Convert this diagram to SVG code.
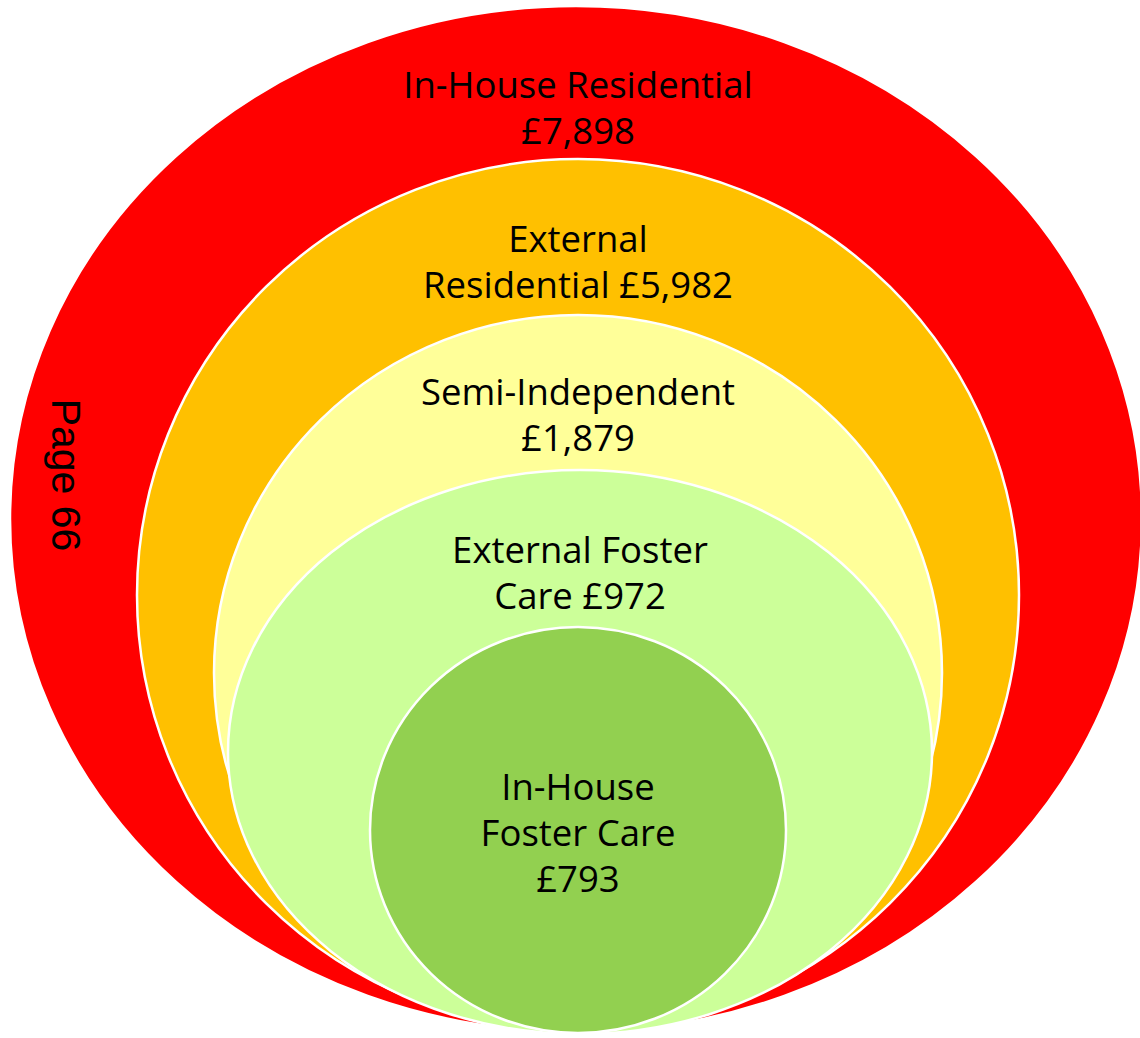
<svg xmlns="http://www.w3.org/2000/svg" width="1140" height="1038" viewBox="0 0 1140 1038">
<style>
.ring{stroke:#FFFFFF;stroke-width:2.5}
.lbl{font-family:"Open Sans","Liberation Sans",sans-serif;font-size:36.5px;fill:#000;text-anchor:middle}
.pg{font-family:"Liberation Sans",Arial,sans-serif;font-size:41px;fill:#000;text-anchor:middle}
</style>
<rect width="1140" height="1038" fill="#FFFFFF"/>
<g id="in-house-residential">
<ellipse class="ring" cx="576" cy="519" rx="566" ry="513" fill="#FF0000" stroke="none"/>
<text class="lbl" x="578" y="98">In-House Residential</text>
<text class="lbl" x="578" y="144">£7,898</text>
</g>
<g id="external-residential">
<ellipse class="ring" cx="578" cy="595" rx="441" ry="436" fill="#FFC000"/>
<text class="lbl" x="578" y="252">External</text>
<text class="lbl" x="578" y="298">Residential £5,982</text>
</g>
<g id="semi-independent">
<ellipse class="ring" cx="578" cy="673" rx="364" ry="358" fill="#FFFF99"/>
<text class="lbl" x="578" y="405">Semi-Independent</text>
<text class="lbl" x="578" y="451">£1,879</text>
</g>
<g id="external-foster-care">
<ellipse class="ring" cx="580" cy="752" rx="352" ry="282" fill="#CCFF99"/>
<text class="lbl" x="580" y="563">External Foster</text>
<text class="lbl" x="580" y="609">Care £972</text>
</g>
<g id="in-house-foster-care">
<ellipse class="ring" cx="578" cy="830" rx="208" ry="203" fill="#92D050"/>
<text class="lbl" x="578" y="800">In-House</text>
<text class="lbl" x="578" y="846">Foster Care</text>
<text class="lbl" x="578" y="892">£793</text>
</g>
<g id="page-label">
<text class="pg" transform="translate(52,475) rotate(90)" x="0" y="0">Page 66</text>
</g>
<g id="connectors"></g>
</svg>
